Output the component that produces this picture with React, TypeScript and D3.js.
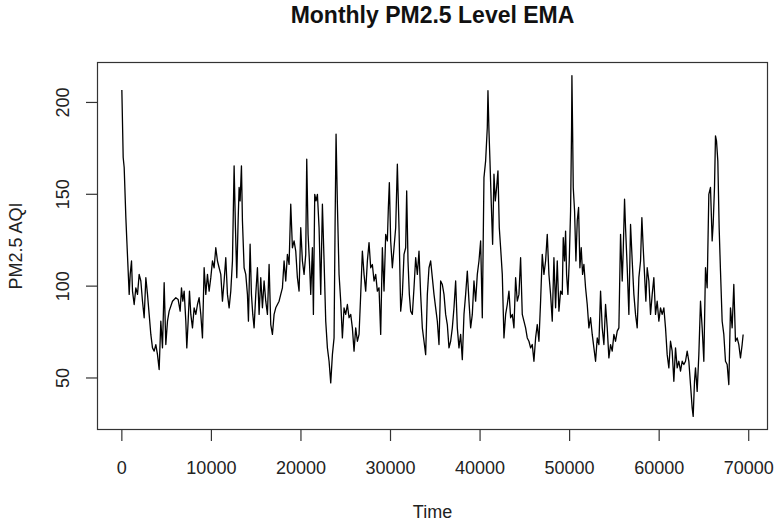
import React from "react";
import * as d3 from "d3";

const time: number[] = [
  0, 149, 260, 447, 558, 819, 930, 1079, 1190, 1376, 1562, 1748, 1934, 2120, 2306, 2492, 2678, 2864, 3050, 3236,
  3422, 3608, 3794, 3980, 4166, 4352, 4538, 4724, 4910, 5096, 5282, 5654, 6026, 6287, 6510, 6659, 6808, 6957, 7143, 7254,
  7403, 7552, 7701, 7887, 8073, 8259, 8444, 8630, 8816, 9002, 9188, 9374, 9560, 9746, 9932, 10118, 10304, 10490, 10676, 10862,
  11048, 11234, 11420, 11606, 11792, 11978, 12164, 12350, 12536, 12685, 12834, 12983, 13094, 13206, 13355, 13466, 13652, 13838, 14024, 14136,
  14247, 14322, 14470, 14619, 14768, 14954, 15140, 15326, 15512, 15698, 15884, 16070, 16256, 16442, 16628, 16814, 17000, 17186, 17558, 17744,
  17930, 18116, 18302, 18488, 18674, 18860, 19046, 19232, 19418, 19604, 19790, 19976, 20162, 20348, 20534, 20646, 20795, 20944, 21092, 21278,
  21390, 21539, 21688, 21837, 22023, 22209, 22395, 22581, 22767, 22953, 23139, 23325, 23511, 23697, 23808, 23920, 24068, 24254, 24440, 24626,
  24812, 24998, 25184, 25370, 25556, 25742, 25928, 26114, 26300, 26486, 26672, 26858, 27044, 27230, 27416, 27602, 27788, 27974, 28160, 28346,
  28532, 28718, 28904, 29090, 29276, 29462, 29648, 29760, 29871, 30020, 30206, 30392, 30578, 30764, 30950, 31136, 31322, 31508, 31694, 31806,
  31954, 32103, 32252, 32438, 32624, 32810, 32996, 33182, 33368, 33554, 33740, 33926, 34112, 34298, 34484, 34670, 34856, 35042, 35228, 35414,
  35600, 35786, 35972, 36158, 36344, 36530, 36716, 36902, 37088, 37274, 37460, 37646, 37832, 38018, 38204, 38390, 38576, 38762, 38948, 39134,
  39320, 39506, 39692, 39878, 40064, 40250, 40436, 40622, 40808, 40882, 40994, 41106, 41254, 41403, 41552, 41701, 41850, 41998, 42147, 42296,
  42482, 42668, 42854, 43040, 43226, 43412, 43598, 43784, 43970, 44156, 44342, 44528, 44714, 44900, 45086, 45272, 45458, 45644, 45830, 46016,
  46202, 46388, 46574, 46760, 46946, 47132, 47318, 47504, 47690, 47876, 48062, 48248, 48434, 48620, 48806, 48992, 49178, 49290, 49438, 49550,
  49662, 49810, 49959, 50108, 50220, 50257, 50331, 50406, 50554, 50703, 50852, 51001, 51150, 51298, 51447, 51596, 51782, 51968, 52154, 52340,
  52526, 52712, 52898, 53084, 53270, 53456, 53642, 53828, 54014, 54200, 54386, 54572, 54758, 54944, 55130, 55316, 55502, 55688, 55874, 55986,
  56134, 56246, 56432, 56618, 56804, 56990, 57176, 57362, 57548, 57734, 57920, 58069, 58218, 58366, 58515, 58664, 58850, 59036, 59222, 59408,
  59594, 59780, 59966, 60152, 60338, 60524, 60710, 60896, 61082, 61268, 61454, 61640, 61826, 62012, 62198, 62384, 62570, 62756, 62942, 63128,
  63314, 63500, 63686, 63798, 63946, 64058, 64244, 64430, 64616, 64802, 64988, 65174, 65360, 65546, 65732, 65918, 66030, 66178, 66290, 66402,
  66550, 66699, 66848, 67034, 67220, 67406, 67592, 67778, 67964, 68150, 68336, 68522, 68708, 68894, 69080, 69266, 69378,
];

const pm25: number[] = [
  206.8, 170.0, 164.6, 137.3, 124.6, 95.5, 106.4, 113.7, 97.3, 90.0, 99.1, 95.5, 106.4, 102.8, 91.8, 82.8, 104.6, 95.5, 84.6, 73.7,
  66.4, 64.6, 68.2, 62.7, 54.6, 80.9, 66.4, 101.9, 68.2, 80.9, 86.4, 91.8, 93.7, 92.7, 86.4, 99.1, 91.8, 97.3, 80.9, 66.4,
  80.9, 97.3, 84.6, 77.3, 88.2, 84.6, 90.0, 93.7, 84.6, 71.8, 110.0, 95.5, 106.4, 97.3, 104.6, 113.7, 110.0, 120.9, 113.7, 110.0,
  106.4, 91.8, 102.8, 115.5, 95.5, 88.2, 97.3, 113.7, 165.5, 131.8, 104.6, 135.5, 153.7, 146.4, 165.5, 135.5, 110.0, 106.4, 95.5, 80.9,
  106.4, 122.8, 95.5, 84.6, 77.3, 95.5, 110.0, 84.6, 104.6, 88.2, 102.8, 91.8, 84.6, 111.8, 79.1, 73.7, 84.6, 88.2, 91.8, 95.5,
  99.1, 113.7, 102.8, 117.3, 111.8, 144.6, 120.9, 124.6, 119.1, 104.6, 97.3, 131.8, 113.7, 106.4, 117.3, 169.1, 128.2, 113.7, 95.5, 120.9,
  84.6, 150.0, 146.4, 150.0, 131.8, 95.5, 144.6, 113.7, 80.9, 66.4, 59.1, 47.3, 62.7, 71.8, 131.8, 182.8, 144.6, 106.4, 91.8, 71.8,
  88.2, 84.6, 90.0, 82.8, 84.6, 77.3, 64.6, 77.3, 70.0, 73.7, 95.5, 119.1, 106.4, 97.3, 113.7, 123.7, 110.0, 111.8, 102.8, 106.4,
  97.3, 99.1, 73.7, 120.9, 97.3, 128.2, 124.6, 142.8, 156.4, 124.6, 110.0, 120.9, 131.8, 166.4, 131.8, 86.4, 95.5, 117.3, 120.9, 151.8,
  113.7, 95.5, 86.4, 84.6, 99.1, 115.5, 106.4, 119.1, 95.5, 77.3, 70.0, 62.7, 95.5, 110.0, 113.7, 104.6, 95.5, 88.2, 80.9, 68.2,
  102.8, 100.9, 95.5, 84.6, 79.1, 66.4, 70.0, 77.3, 88.2, 102.8, 77.3, 66.4, 73.7, 60.0, 84.6, 95.5, 108.2, 91.8, 77.3, 84.6,
  102.8, 91.8, 106.4, 113.7, 124.6, 82.8, 159.1, 168.2, 186.4, 206.4, 184.6, 168.2, 144.6, 122.8, 160.9, 146.4, 153.7, 162.8, 131.8, 120.9,
  106.4, 71.8, 84.6, 90.0, 97.3, 82.8, 84.6, 77.3, 104.6, 91.8, 95.5, 115.5, 84.6, 80.9, 77.3, 71.8, 70.0, 66.4, 68.2, 59.1,
  71.8, 79.1, 70.0, 91.8, 117.3, 106.4, 113.7, 128.2, 106.4, 95.5, 80.9, 115.5, 88.2, 113.7, 86.4, 97.3, 95.5, 126.4, 113.7, 130.0,
  106.4, 95.5, 113.7, 140.9, 186.4, 214.6, 186.4, 153.7, 140.9, 113.7, 135.5, 142.8, 110.0, 120.9, 106.4, 111.8, 99.1, 90.0, 77.3, 82.8,
  73.7, 66.4, 59.1, 71.8, 68.2, 97.3, 77.3, 68.2, 90.0, 77.3, 60.9, 68.2, 64.6, 73.7, 70.0, 75.5, 77.3, 128.2, 102.8, 119.1,
  147.3, 131.8, 110.0, 84.6, 133.6, 113.7, 95.5, 84.6, 77.3, 104.6, 113.7, 137.3, 120.9, 106.4, 91.8, 110.0, 102.8, 84.6, 95.5, 104.6,
  84.6, 91.8, 80.9, 88.2, 84.6, 88.2, 77.3, 62.7, 55.5, 70.0, 64.6, 48.2, 66.4, 55.5, 59.1, 53.7, 59.1, 57.3, 59.1, 64.6,
  59.1, 46.4, 33.7, 29.1, 48.2, 55.5, 42.7, 62.7, 91.8, 77.3, 59.1, 110.0, 99.1, 150.0, 153.7, 124.6, 133.7, 153.7, 181.8, 179.1,
  168.2, 131.8, 108.2, 80.9, 73.7, 59.1, 57.3, 46.4, 88.2, 77.3, 100.9, 70.0, 71.8, 68.2, 60.9, 68.2, 73.7,
];

const xTicks: number[] = [0, 10000, 20000, 30000, 40000, 50000, 60000, 70000];
const yTicks: number[] = [50, 100, 150, 200];

const titleText = "Monthly PM2.5 Level EMA";
const xLabel = "Time";
const yLabel = "PM2.5 AQI";

const W = 778;
const H = 524;
const left = 97;
const right = 768;
const top = 62;
const bottom = 430;

function rExtent(vals: number[]): [number, number] {
  const [a, b] = d3.extent(vals) as [number, number];
  const e = (b - a) * 0.04;
  return [a - e, b + e];
}

export default function App() {
  const x = d3.scaleLinear().domain(rExtent(time)).range([left, right]);
  const y = d3.scaleLinear().domain(rExtent(pm25)).range([bottom, top]);
  const pts: [number, number][] = time.map((t, i) => [t, pm25[i]]);
  const line = d3
    .line<[number, number]>()
    .x((d) => x(d[0]))
    .y((d) => y(d[1]));
  const font = "'Liberation Sans', Arial, Helvetica, sans-serif";
  const tickLen = 11;

  return (
    <svg
      width={W}
      height={H}
      style={{ position: "fixed", left: 0, top: 0, background: "#fff" }}
      fontFamily={font}
    >
      <rect x={0} y={0} width={W} height={H} fill="#fff" />
      <text x={432.5} y={23} textAnchor="middle" fontSize={23} fontWeight="bold" fill="#111">
        {titleText}
      </text>
      <path d={line(pts) || ""} fill="none" stroke="#000" strokeWidth={1.3} strokeLinejoin="round" />
      <rect
        x={left + 0.5}
        y={top + 0.5}
        width={right - left - 1}
        height={bottom - top - 1}
        fill="none"
        stroke="#333"
        strokeWidth={1.2}
      />
      {xTicks.map((t) => (
        <g key={"x" + t}>
          <line x1={x(t)} x2={x(t)} y1={bottom} y2={bottom + tickLen} stroke="#333" strokeWidth={1.2} />
          <text x={x(t)} y={474} textAnchor="middle" fontSize={18} fill="#222">
            {t}
          </text>
        </g>
      ))}
      {yTicks.map((v) => (
        <g key={"y" + v}>
          <line x1={left} x2={left - tickLen} y1={y(v)} y2={y(v)} stroke="#333" strokeWidth={1.2} />
          <text
            transform={`translate(68.5, ${y(v)}) rotate(-90)`}
            textAnchor="middle"
            fontSize={18}
            fill="#222"
          >
            {v}
          </text>
        </g>
      ))}
      <text x={(left + right) / 2} y={518} textAnchor="middle" fontSize={18} fill="#222">
        {xLabel}
      </text>
      <text
        transform={`translate(21.7, ${(top + bottom) / 2}) rotate(-90)`}
        textAnchor="middle"
        fontSize={18}
        fill="#222"
      >
        {yLabel}
      </text>
    </svg>
  );
}
